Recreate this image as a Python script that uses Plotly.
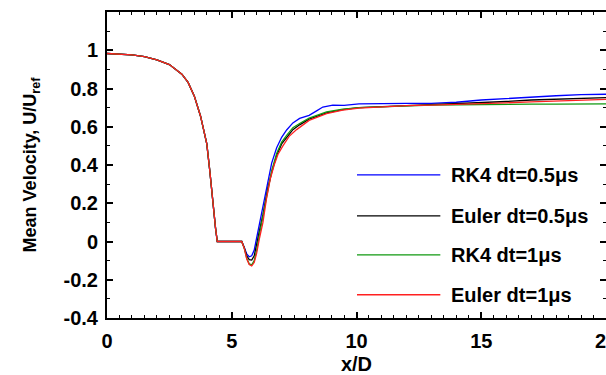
import plotly.graph_objects as go

# ---- data ----
x_common = [0, 0.5, 1.0, 1.5, 2.0, 2.5, 3.0, 3.25, 3.5, 3.75, 4.0, 4.12, 4.25, 4.35, 4.42, 5.0, 5.4]
y_common = [0.983, 0.981, 0.976, 0.967, 0.950, 0.925, 0.875, 0.832, 0.760, 0.655, 0.510, 0.370, 0.180, 0.070, 0.0, 0.0, 0.0]

x_blue = [5.5, 5.6, 5.7, 5.8, 5.9, 6.0, 6.1, 6.25, 6.45, 6.6, 6.8, 7.0, 7.2, 7.45, 7.72, 8.1, 8.4, 8.65, 9.05, 9.5, 10.1,
          11, 12, 13, 14, 15, 16, 17, 18, 19, 20]
y_blue = [-0.030, -0.065, -0.080, -0.075, -0.045, 0.020, 0.100, 0.190, 0.330, 0.410, 0.490, 0.545, 0.583, 0.620, 0.644,
          0.660, 0.683, 0.703, 0.713, 0.712, 0.720, 0.722, 0.722, 0.722, 0.728, 0.740, 0.748, 0.755, 0.762, 0.768, 0.770]

x_black = [5.5, 5.6, 5.7, 5.8, 5.9, 6.0, 6.1, 6.25, 6.45, 6.6, 6.8, 7.0, 7.2, 7.45, 7.72, 8.1, 8.8, 9.45, 10.1,
           11, 12, 13, 14, 15, 16, 17, 18, 19, 20]
y_black = [-0.032, -0.075, -0.095, -0.097, -0.075, -0.020, 0.050, 0.140, 0.280, 0.360, 0.450, 0.510, 0.545, 0.585, 0.610,
           0.640, 0.672, 0.690, 0.700, 0.705, 0.710, 0.713, 0.718, 0.725, 0.732, 0.740, 0.745, 0.750, 0.752]

x_green = [5.5, 5.6, 5.7, 5.8, 5.9, 6.0, 6.1, 6.25, 6.45, 6.6, 6.8, 7.0, 7.2, 7.45, 7.72, 8.1, 8.8, 9.45, 10.1,
           11, 12, 13, 14, 15, 16, 17, 18, 19, 20]
y_green = [-0.035, -0.088, -0.117, -0.122, -0.100, -0.045, 0.030, 0.130, 0.280, 0.370, 0.460, 0.520, 0.555, 0.595, 0.617,
           0.645, 0.678, 0.692, 0.700, 0.705, 0.710, 0.713, 0.715, 0.717, 0.718, 0.718, 0.718, 0.720, 0.720]

x_red = [5.5, 5.6, 5.7, 5.8, 5.9, 6.0, 6.1, 6.25, 6.4, 6.55, 6.7, 6.85, 7.05, 7.3, 7.6, 8.1, 8.8, 9.45, 10.1,
         11, 12, 13, 14, 15, 16, 17, 18, 19, 20]
y_red = [-0.035, -0.090, -0.120, -0.128, -0.110, -0.060, 0.010, 0.100, 0.230, 0.330, 0.400, 0.455, 0.500, 0.550, 0.585,
         0.633, 0.668, 0.687, 0.697, 0.705, 0.710, 0.713, 0.716, 0.720, 0.725, 0.730, 0.735, 0.740, 0.743]

series_names = ["RK4 dt=0.5μs", "Euler dt=0.5μs", "RK4 dt=1μs", "Euler dt=1μs"]
series_colors = ["#0000FF", "#000000", "#119911", "#FF2020"]
series_x = [x_blue, x_black, x_green, x_red]
series_y = [y_blue, y_black, y_green, y_red]

FONT = "Arial, Liberation Sans, sans-serif"

fig = go.Figure()
for name, col, xs, ys in zip(series_names, series_colors, series_x, series_y):
    fig.add_trace(go.Scatter(x=x_common + xs, y=y_common + ys, mode="lines", name=name,
                             line=dict(color=col, width=1.3), showlegend=False))

# manual legend (long line samples, like the reference)
leg_y = [0.468, 0.334, 0.206, 0.076]
for name, col, ly in zip(series_names, series_colors, leg_y):
    fig.add_shape(type="line", xref="paper", yref="paper", x0=0.501, x1=0.668, y0=ly, y1=ly,
                  line=dict(color=col, width=1.3))
    fig.add_annotation(xref="paper", yref="paper", x=0.686, y=ly, text=name, showarrow=False,
                       xanchor="left", yanchor="middle",
                       font=dict(family=FONT, size=20, color="black", weight="bold"))

axis_common = dict(showline=True, linecolor="black", linewidth=2, mirror="ticks", ticks="inside",
                   tickcolor="black", tickwidth=1.5, ticklen=6, showgrid=False, zeroline=False,
                   automargin=False, ticklabeloverflow="allow",
                   tickfont=dict(family=FONT, size=20, color="black", weight="bold"))

fig.update_xaxes(range=[0, 20], dtick=5, tick0=0,
                 minor=dict(dtick=0.5, ticks="inside", ticklen=3, tickcolor="black", tickwidth=1),
                 title=dict(text="x/D", font=dict(family=FONT, size=20, color="black", weight="bold"), standoff=22),
                 ticklabelstandoff=4, **axis_common)
fig.update_yaxes(range=[-0.4, 1.2], tickvals=[-0.4, -0.2, 0, 0.2, 0.4, 0.6, 0.8, 1],
                 ticktext=["-0.4", "-0.2", "0", "0.2", "0.4", "0.6", "0.8", "1"],
                 minor=dict(dtick=0.1, ticks="inside", ticklen=3, tickcolor="black", tickwidth=1),
                 title=dict(text="Mean Velocity, U/U<sub>ref</sub>",
                            font=dict(family=FONT, size=18, color="black", weight="bold"), standoff=22),
                 ticklabelstandoff=3, **axis_common)

fig.update_layout(width=606, height=375, margin=dict(l=107, r=0, t=12, b=57),
                  plot_bgcolor="white", paper_bgcolor="white")

fig.write_html("out.html", config={"displayModeBar": False},
               post_script="document.body.style.margin='0';document.body.style.padding='0';")
